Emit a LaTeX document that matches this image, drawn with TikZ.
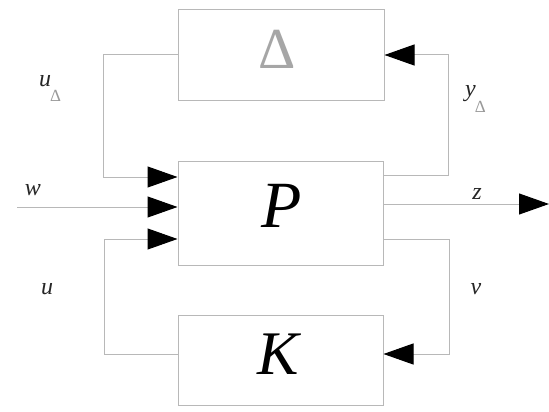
\documentclass[tikz,border=0pt]{standalone}
\usepackage{fontspec}
\setmainfont{Liberation Serif}
\usetikzlibrary{arrows.meta}
\tikzset{
  blockbox/.style={draw=black!28, line width=1pt, inner sep=0pt, fill=white},
  conn/.style={draw=black!28, line width=1pt},
  arr/.style={conn, -{Triangle[length=30pt,width=21pt,color=black]}},
  lbl/.style={inner sep=0pt, text=black!85, font=\fontsize{24}{24}\selectfont\itshape}
}
\begin{document}
\begin{tikzpicture}[x=1pt,y=-1pt]
\useasboundingbox[fill=white] (0,0) rectangle (549,412);
% blocks
\node[blockbox, minimum width=206pt, minimum height=90pt] (D) at (281,55) {};
\node[blockbox, minimum width=205pt, minimum height=104pt] (P) at (280.5,213) {};
\node[blockbox, minimum width=205pt, minimum height=90pt] (K) at (280.5,360) {};
\node[inner sep=0pt, text=black!35, font=\fontsize{58}{58}\selectfont] (Dsym) at (277,49) {Δ};
\node[inner sep=0pt, font=\fontsize{66}{66}\selectfont\itshape] (Psym) at (282,206) {P};
\node[inner sep=0pt, font=\fontsize{62}{62}\selectfont\itshape] (Ksym) at (278,354) {K};
% coordinates
\coordinate (l1) at (103,177);
\coordinate (win) at (17,207);
\coordinate (l2) at (104,239);
\coordinate (r1) at (448,175);
\coordinate (zout) at (549,204);
\coordinate (r2) at (449,239);
\coordinate (ky) at (0,354);
% connectors
\draw[arr] (D.west) -| (l1) -- (l1 -| P.west);
\draw[arr] (win) -- (win -| P.west);
\draw[arr] (K.west |- ky) -| (l2) -- (l2 -| P.west);
\draw[arr] (r1 -| P.east) -- (r1) |- (D.east);
\draw[arr] (zout -| P.east) -- (zout);
\draw[arr] (r2 -| P.east) -- (r2) |- (K.east |- ky);
% labels
\node[lbl, anchor=base west] (uD) at (39,87) {u\kern-1pt\raisebox{-15pt}{\fontsize{17}{17}\selectfont\upshape\color{black!40}Δ}};
\node[lbl, anchor=base west] (yD) at (465,96) {y\kern-1pt\raisebox{-16pt}{\fontsize{17}{17}\selectfont\upshape\color{black!40}Δ}};
\node[lbl, anchor=base] (w) at (33,195) {w};
\node[lbl, anchor=base] (z) at (477,199) {z};
\node[lbl, anchor=base] (u) at (47,294) {u};
\node[lbl, anchor=base] (v) at (476,294) {v};
\end{tikzpicture}
\end{document}
